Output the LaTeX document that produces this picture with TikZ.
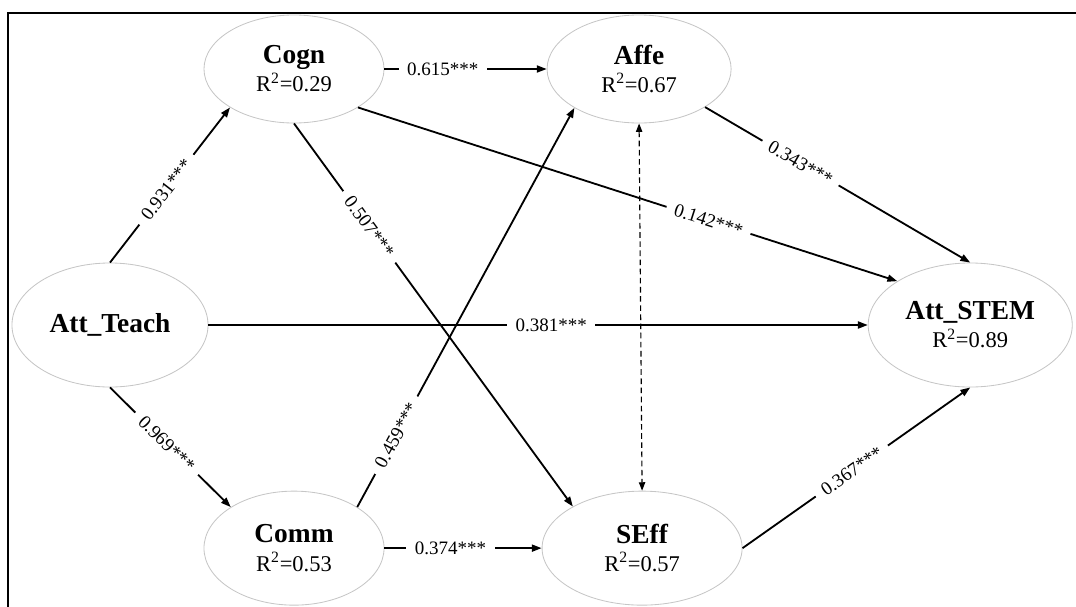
\documentclass[tikz,border=0pt]{standalone}
\usepackage{fontspec}
\setmainfont{Liberation Serif}
\usetikzlibrary{shapes, arrows.meta, positioning}

\newcommand{\vname}[1]{{\fontsize{19.5}{20}\selectfont\bfseries #1}}

\begin{document}
\begin{tikzpicture}[
    x=0.025cm, y=-0.025cm,
    latent/.style={ellipse, draw=gray!45, line width=0.6pt, inner sep=0pt, align=center, font=\fontsize{16}{20}\selectfont},
    link/.style={-{Triangle[length=7pt, width=5pt]}, line width=1.3pt},
    corr/.style={{Triangle[length=6pt, width=4.5pt]}-{Triangle[length=6pt, width=4.5pt]}, dash pattern=on 4pt off 2.5pt, line width=0.8pt},
    coef/.style={font=\fontsize{13.5}{15}\selectfont, fill=white, inner xsep=6pt, inner ysep=1pt, sloped},
    frame/.style={line width=1.6pt},
]
\useasboundingbox (0,0) rectangle (1076,606);
\draw [frame] (8,13) rectangle (1100,630);

% Exogenous
\node (attteach) [latent, minimum width=4.9cm, minimum height=3.1cm] at (110,325) {\vname{Att\_Teach}};

% Mediators
\node (cogn) [latent, minimum width=4.5cm, minimum height=2.7cm] at (294,69) {\vname{Cogn}\\R\textsuperscript{2}=0.29};
\node (affe) [latent, right of=cogn, node distance=8.625cm, minimum width=4.6cm, minimum height=2.7cm] {\vname{Affe}\\R\textsuperscript{2}=0.67};
\node (comm) [latent, below of=cogn, node distance=11.975cm, minimum width=4.5cm, minimum height=2.85cm] {\vname{Comm}\\R\textsuperscript{2}=0.53};
\node (seff) [latent, right of=comm, node distance=8.7cm, minimum width=5cm, minimum height=2.85cm] {\vname{SEff}\\R\textsuperscript{2}=0.57};

% Outcome
\node (attstem) [latent, right of=attteach, node distance=21.5cm, minimum width=5.1cm, minimum height=3.1cm] {\vname{Att\_STEM}\\R\textsuperscript{2}=0.89};

% Paths
\draw [link] (attteach.north) -- node[coef, pos=0.47] {0.931***} (cogn.211);
\draw [link] (attteach.south) -- node[coef, pos=0.47] {0.969***} (comm.147);
\draw [link] (cogn.east) -- node[coef, pos=0.36] {0.615***} (affe.west);
\draw [link] (comm.east) -- node[coef, pos=0.42] {0.374***} (seff.west);
\draw [link] (cogn.south) -- node[coef, pos=0.27] {0.507***} (seff.149);
\draw [link] (comm.33) -- node[coef, pos=0.18] {0.459***} (affe.211);
\draw [link] (cogn.329) -- node[coef, pos=0.65] {0.142***} (attstem.149);
\draw [link] (affe.330) -- node[coef, pos=0.36] {0.343***} (attstem.north);
\draw [link] (attteach.east) -- node[coef, pos=0.52] {0.381***} (attstem.west);
\draw [link] (seff.east) -- node[coef, pos=0.48] {0.367***} (attstem.south);

% Correlation
\draw [corr] (affe.south) -- (seff.north);

\end{tikzpicture}
\end{document}
